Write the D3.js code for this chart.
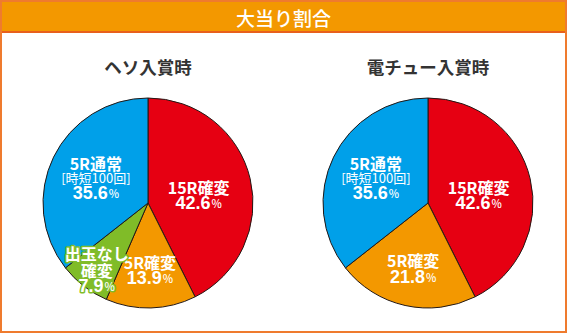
<!DOCTYPE html>
<html>
<head>
<meta charset="utf-8">
<script src="https://cdn.jsdelivr.net/npm/d3@7"></script>
<style>
  html, body { margin: 0; padding: 0; background: #fff; }
  svg { display: block; }
  text { font-family: "Noto Sans CJK JP", "Noto Sans", sans-serif; }
</style>
</head>
<body>
<svg id="chart" width="567" height="333"></svg>
<script>
// Jackpot breakdown: two pies, one per entry route
const mainTitle = "大当り割合";
const pieTitles = ["ヘソ入賞時", "電チュー入賞時"];

const categoriesHeso = ["15R確変", "5R確変", "出玉なし確変", "5R通常"];
const valuesHeso = [42.6, 13.9, 7.9, 35.6];

const categoriesDenchu = ["15R確変", "5R確変", "5R通常"];
const valuesDenchu = [42.6, 21.8, 35.6];

// Label lines per category (name may wrap / carry a note)
const nameLines = {
  "15R確変": ["15R確変"],
  "5R確変": ["5R確変"],
  "出玉なし確変": ["出玉なし", "確変"],
  "5R通常": ["5R通常"]
};
const noteLines = { "5R通常": "[時短100回]" };

const colors = {
  "15R確変": "#e60012",
  "5R確変": "#f39800",
  "出玉なし確変": "#80bc28",
  "5R通常": "#00a0e9"
};

// Label placement: radius along slice bisector plus small nudge
const labelPlace = {
  "15R確変": { r: 52, dx: 0, dy: 4 },
  "5R確変": { r: 68, dx: 0, dy: -1 },
  "出玉なし確変": { r: 84, dx: 0, dy: 0 },
  "5R通常": { r: 58, dx: 0, dy: 0 }
};

const W = 567, H = 333;
const svg = d3.select("#chart");

// Frame and title bar
svg.append("rect").attr("x", 1).attr("y", 1).attr("width", W - 2).attr("height", H - 2)
  .attr("fill", "#fff").attr("stroke", "#ef7b2e").attr("stroke-width", 2);
svg.append("rect").attr("x", 2).attr("y", 2).attr("width", W - 4).attr("height", 29)
  .attr("fill", "#f39800");
svg.append("rect").attr("x", 2).attr("y", 31).attr("width", W - 4).attr("height", 2)
  .attr("fill", "#e8601c");
svg.append("text").attr("x", W / 2).attr("y", 17.5)
  .attr("text-anchor", "middle").attr("dominant-baseline", "central")
  .attr("fill", "#fff").attr("font-size", 19).attr("font-weight", 500)
  .text(mainTitle);

const radius = 105;
const pies = [
  { title: pieTitles[0], cats: categoriesHeso, vals: valuesHeso, cx: 148 },
  { title: pieTitles[1], cats: categoriesDenchu, vals: valuesDenchu, cx: 428 }
];
const cy = 203;

const pie = d3.pie().sort(null).value(d => d.value);
const arc = d3.arc().innerRadius(0).outerRadius(radius);

pies.forEach(p => {
  const data = p.cats.map((c, i) => ({ name: c, value: p.vals[i] }));
  const g = svg.append("g").attr("transform", `translate(${p.cx},${cy})`);

  svg.append("text").attr("x", p.cx).attr("y", 66)
    .attr("text-anchor", "middle").attr("dominant-baseline", "central")
    .attr("fill", "#333").attr("font-size", 17.5).attr("font-weight", 700)
    .text(p.title);

  const arcs = pie(data);
  g.selectAll("path.slice").data(arcs).join("path")
    .attr("class", "slice")
    .attr("d", arc)
    .attr("fill", d => colors[d.data.name])
    .attr("stroke", "#231815").attr("stroke-width", 1)
    .attr("stroke-linejoin", "round");

  arcs.forEach(a => {
    const name = a.data.name;
    const pl = labelPlace[name];
    const mid = (a.startAngle + a.endAngle) / 2;
    const x = Math.sin(mid) * pl.r + pl.dx;
    const y = -Math.cos(mid) * pl.r + pl.dy;

    const lines = nameLines[name].map(t => ({ text: t, kind: "name" }));
    if (noteLines[name]) lines.push({ text: noteLines[name], kind: "note" });
    lines.push({ text: d3.format(".1f")(a.data.value), kind: "value" });

    const step = name === "5R通常" ? 15 : 16.5;
    const y0 = y - (lines.length - 1) * step / 2;
    const outlined = name === "出玉なし確変";

    const lg = g.append("g");
    lines.forEach((ln, i) => {
      const t = lg.append("text")
        .attr("x", x).attr("y", y0 + i * step)
        .attr("text-anchor", "middle").attr("dominant-baseline", "central")
        .attr("fill", "#fff")
        .attr("font-weight", ln.kind === "note" ? 400 : 700)
        .attr("font-size", ln.kind === "note" ? 13 : 16);
      if (outlined) {
        t.attr("stroke", colors[name]).attr("stroke-width", 3)
          .attr("paint-order", "stroke").attr("stroke-linejoin", "round");
      }
      if (ln.kind === "value") {
        t.append("tspan").attr("font-family", "'Liberation Sans', Arial, sans-serif")
          .attr("font-size", 18).text(ln.text);
        t.append("tspan").attr("font-size", 11).attr("font-weight", 500).attr("dx", 1).text("%");
      } else {
        t.text(ln.text);
      }
    });
  });
});
</script>
</body>
</html>
